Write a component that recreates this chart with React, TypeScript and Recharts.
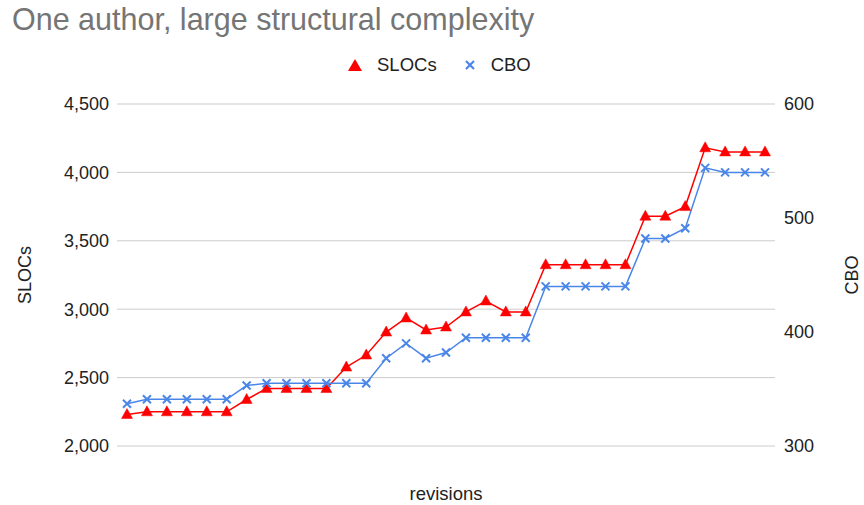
import React from 'react';
import { LineChart, Line, XAxis, YAxis, CartesianGrid } from 'recharts';

const revisions = Array.from({ length: 33 }, (_, i) => `r${i + 1}`);
const slocs = [2230, 2250, 2250, 2250, 2250, 2250, 2340, 2420, 2420, 2420, 2420, 2577, 2665, 2833, 2936, 2848, 2870, 2980, 3060, 2980, 2980, 3325, 3325, 3325, 3325, 3325, 3680, 3680, 3750, 4180, 4150, 4150, 4150];
const cbo = [337, 341, 341, 341, 341, 341, 353, 355, 355, 355, 355, 355, 355, 377, 390, 377, 382, 395, 395, 395, 395, 440, 440, 440, 440, 440, 482, 482, 491, 544, 540, 540, 540];
const leftTicks = [2000, 2500, 3000, 3500, 4000, 4500];
const rightTicks = [300, 400, 500, 600];

const data = revisions.map((r, i) => ({ rev: r, SLOCs: slocs[i], CBO: cbo[i] }));

const RED = '#ff0000';
const BLUE = '#4a86e8';
const FONT = '"Liberation Sans", Arial, sans-serif';

const Tri = (props: any) => {
  const { cx, cy } = props;
  if (cx == null || cy == null) return null;
  return <path d={`M${cx},${cy - 6} L${cx + 5.5},${cy + 4} L${cx - 5.5},${cy + 4} Z`} fill={RED} stroke={RED} strokeWidth={0.5} />;
};
const Cross = (props: any) => {
  const { cx, cy } = props;
  if (cx == null || cy == null) return null;
  return <path d={`M${cx - 4},${cy - 4} L${cx + 4},${cy + 4} M${cx + 4},${cy - 4} L${cx - 4},${cy + 4}`} stroke={BLUE} strokeWidth={2} fill="none" />;
};

const fmt = (v: number) => v.toLocaleString('en-US');

export default function App() {
  return (
    <div style={{ position: 'absolute', left: 0, top: 0, width: 864, height: 505, background: '#fff' }}>
      <div style={{ position: 'absolute', left: 12, top: 2, fontFamily: FONT, fontSize: 30.5, color: '#757575', whiteSpace: 'nowrap' }}>
        One author, large structural complexity
      </div>
      <div style={{ position: 'absolute', left: 347, top: 54, display: 'flex', alignItems: 'center', fontFamily: FONT, fontSize: 18.5, color: '#222', whiteSpace: 'nowrap' }}>
        <svg width={16} height={16} style={{ marginRight: 14 }}>
          <path d="M8,2 L15,14 L1,14 Z" fill={RED} />
        </svg>
        <span>SLOCs</span>
        <svg width={14} height={14} style={{ marginLeft: 26, marginRight: 14 }}>
          <path d="M3,3 L11,11 M11,3 L3,11" stroke={BLUE} strokeWidth={2.2} />
        </svg>
        <span>CBO</span>
      </div>
      <div style={{ position: 'absolute', left: 0, top: 0 }}>
        <LineChart width={864} height={505} data={data} margin={{ top: 104, right: 0, bottom: 0, left: 0 }}>
          <CartesianGrid yAxisId="left" vertical={false} stroke="#cccccc" strokeWidth={1} />
          <XAxis
            dataKey="rev"
            tick={false}
            tickLine={false}
            axisLine={false}
            height={59}
            padding={{ left: 10, right: 10 }}
            label={{
              content: (p: any) => (
                <text x={p.viewBox.x + p.viewBox.width / 2} y={p.viewBox.y + 47} textAnchor="middle" dominantBaseline="central" fontFamily={FONT} fontSize={18.5} fill="#222">
                  revisions
                </text>
              ),
            }}
          />
          <YAxis
            yAxisId="left"
            width={117}
            domain={[2000, 4500]}
            ticks={leftTicks}
            tickFormatter={fmt}
            axisLine={false}
            tickLine={false}
            tick={{ fontFamily: FONT, fontSize: 18, fill: '#222' }}
            label={{
              content: (p: any) => {
                const cy = p.viewBox.y + p.viewBox.height / 2;
                return (
                  <text x={24.5} y={cy} transform={`rotate(-90, 24.5, ${cy})`} textAnchor="middle" dominantBaseline="central" fontFamily={FONT} fontSize={18} fill="#222">
                    SLOCs
                  </text>
                );
              },
            }}
          />
          <YAxis
            yAxisId="right"
            orientation="right"
            width={89}
            domain={[300, 600]}
            ticks={rightTicks}
            axisLine={false}
            tickLine={false}
            tick={{ fontFamily: FONT, fontSize: 18, fill: '#222', textAnchor: 'start', dx: 1 }}
            label={{
              content: (p: any) => {
                const cy = p.viewBox.y + p.viewBox.height / 2;
                return (
                  <text x={852} y={cy} transform={`rotate(-90, 852, ${cy})`} textAnchor="middle" dominantBaseline="central" fontFamily={FONT} fontSize={18} fill="#222">
                    CBO
                  </text>
                );
              },
            }}
          />
          <Line yAxisId="left" dataKey="SLOCs" stroke={RED} strokeWidth={1.5} dot={<Tri />} activeDot={false} isAnimationActive={false} />
          <Line yAxisId="right" dataKey="CBO" stroke={BLUE} strokeWidth={1.5} dot={<Cross />} activeDot={false} isAnimationActive={false} />
        </LineChart>
      </div>
    </div>
  );
}
